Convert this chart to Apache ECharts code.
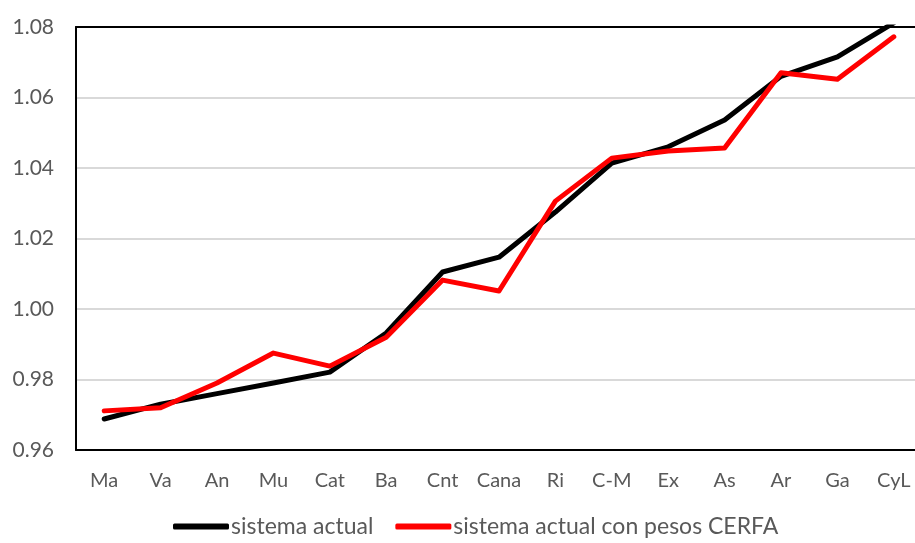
<!DOCTYPE html>
<html>
<head>
<meta charset="utf-8">
<script src="https://cdn.jsdelivr.net/npm/echarts@6/dist/echarts.min.js"></script>
<style>
  html, body { margin: 0; padding: 0; background: #fff; }
  #chart { width: 915px; height: 543px; }
</style>
</head>
<body>
<div id="chart"></div>
<script>
// Regions along the x axis
const categories = ['Ma', 'Va', 'An', 'Mu', 'Cat', 'Ba', 'Cnt', 'Cana', 'Ri', 'C-M', 'Ex', 'As', 'Ar', 'Ga', 'CyL'];

// Index values per region
const sistemaActual = [0.9688, 0.9730, 0.9760, 0.9790, 0.9821, 0.9932, 1.0105, 1.0147, 1.0275, 1.0414, 1.0460, 1.0536, 1.0660, 1.0715, 1.0812];
const sistemaCerfa  = [0.9711, 0.9720, 0.9790, 0.9875, 0.9838, 0.9920, 1.0082, 1.0051, 1.0306, 1.0428, 1.0448, 1.0457, 1.0670, 1.0652, 1.0772];

// Y axis range
const yMin = 0.96, yMax = 1.08, yStep = 0.02;

const font = 'Lato, "Open Sans", sans-serif';
const textColor = '#595959';

const chart = echarts.init(document.getElementById('chart'));
chart.setOption({
  animation: false,
  backgroundColor: '#fff',
  // plot area runs slightly past the right edge of the canvas
  grid: { left: 76, right: -7, top: 27, bottom: 93, outerBoundsMode: 'none', containLabel: false },
  legend: {
    left: 168, bottom: 0,
    itemWidth: 56, itemHeight: 6, itemGap: 22,
    icon: 'roundRect',
    textStyle: { fontFamily: font, fontSize: 23, color: textColor, padding: [0, 0, 0, -3] },
    data: [
      { name: 'sistema actual', itemStyle: { color: '#000' } },
      { name: 'sistema actual con pesos CERFA', itemStyle: { color: '#ff0000' } }
    ]
  },
  xAxis: [
    {
      type: 'category',
      data: categories,
      boundaryGap: true,
      axisLine: { lineStyle: { color: '#000', width: 2 } },
      axisTick: { show: false },
      axisLabel: { interval: 0, fontFamily: font, fontSize: 20, color: textColor, margin: 21 }
    },
    {
      // top frame line of the plot area
      type: 'category',
      position: 'top',
      data: categories,
      axisLine: { show: true, lineStyle: { color: '#000', width: 2 } },
      axisTick: { show: false },
      axisLabel: { show: false },
      splitLine: { show: false }
    }
  ],
  yAxis: {
    type: 'value',
    min: yMin, max: yMax, interval: yStep,
    axisLine: { show: true, lineStyle: { color: '#000', width: 2 } },
    axisTick: { show: false },
    splitLine: { lineStyle: { color: '#d9d9d9', width: 2 } },
    axisLabel: {
      fontFamily: font, fontSize: 21, color: textColor, margin: 22,
      formatter: v => v.toFixed(2)
    }
  },
  series: [
    {
      name: 'sistema actual', type: 'line', data: sistemaActual,
      showSymbol: false, clip: true,
      lineStyle: { color: '#000', width: 5, cap: 'round', join: 'round' },
      itemStyle: { color: '#000' }
    },
    {
      name: 'sistema actual con pesos CERFA', type: 'line', data: sistemaCerfa,
      showSymbol: false, clip: true,
      lineStyle: { color: '#ff0000', width: 5, cap: 'round', join: 'round' },
      itemStyle: { color: '#ff0000' }
    }
  ]
});
</script>
</body>
</html>
